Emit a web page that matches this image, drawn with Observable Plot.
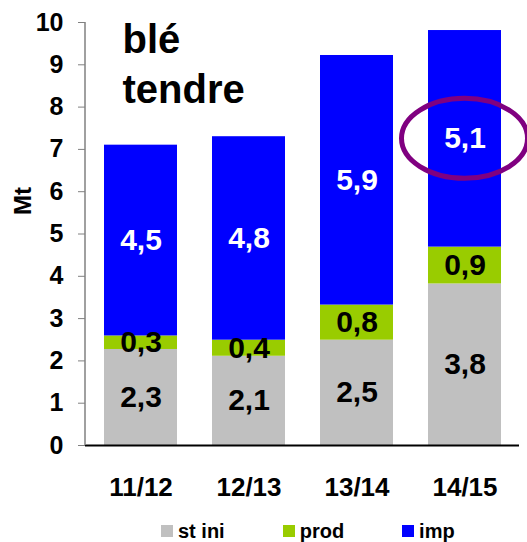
<!DOCTYPE html>
<html><head><meta charset="utf-8">
<script src="https://cdn.jsdelivr.net/npm/d3@7"></script>
<script src="https://cdn.jsdelivr.net/npm/@observablehq/plot@0.6"></script>
<style>
body{margin:0;background:#fff;font-family:"Liberation Sans",Arial,sans-serif;}
#wrap{position:relative;width:527px;height:542px;overflow:hidden;}
#chart{position:absolute;left:0;top:0;}
.legend{position:absolute;left:161px;top:520px;display:flex;font-weight:bold;font-size:20px;line-height:22px;color:#000;}
.legend .item{display:flex;align-items:center;margin-right:58px;}
.legend .sw{width:12px;height:12px;margin-right:5px;}
</style></head><body>
<div id="wrap"><div id="chart"></div><div class="legend" id="legend"></div></div>
<script>
const campaigns = ["11/12", "12/13", "13/14", "14/15"];
const seriesNames = ["st ini", "prod", "imp"];
const stIni = [2.27, 2.11, 2.49, 3.82];
const prod = [0.32, 0.38, 0.83, 0.87];
const imp = [4.51, 4.81, 5.90, 5.12];
const seriesColors = ["#c0c0c0", "#99cc00", "#0000ff"];
const yTicks = [0, 1, 2, 3, 4, 5, 6, 7, 8, 9, 10];
const titleLines = ["blé", "tendre"];
const yLabel = "Mt";
const highlighted = "14/15";

const values = [stIni, prod, imp];
const data = [];
seriesNames.forEach((s, si) => campaigns.forEach((c, ci) => data.push({campaign: c, series: s, value: values[si][ci]})));
const fmt = v => v.toFixed(1).replace(".", ",");

const font = "'Liberation Sans', Arial, sans-serif";
const plot = Plot.plot({
  width: 527, height: 510,
  marginTop: 22, marginBottom: 65, marginLeft: 85, marginRight: 8,
  style: {fontFamily: font, fontWeight: "bold", color: "black", background: "white"},
  x: {domain: campaigns, paddingInner: 0.327, paddingOuter: 0.1635},
  y: {domain: [0, 10]},
  color: {domain: seriesNames, range: seriesColors},
  marks: [
    Plot.barY(data, {x: "campaign", y: "value", z: "series", fill: "series"}),
    Plot.text(data, Plot.stackY({x: "campaign", y: "value", z: "series",
      text: d => d.series === "imp" ? "" : fmt(d.value), fill: "black", fontSize: 30, fontWeight: "bold"})),
    Plot.text(data, Plot.stackY({x: "campaign", y: "value", z: "series",
      text: d => d.series === "imp" ? fmt(d.value) : "", fill: "white", fontSize: 30, fontWeight: "bold"})),
    Plot.ruleY([0], {stroke: "black", strokeWidth: 2}),
    Plot.axisY({ticks: yTicks, tickSize: 7, tickPadding: 15, fontSize: 25, stroke: "#808080", fill: "black", label: null}),
    Plot.axisX({tickSize: 0, tickPadding: 32, fontSize: 26, fill: "black", label: null}),
    Plot.text([titleLines.join("\n")], {text: d => d, frameAnchor: "top-left", textAnchor: "start", lineAnchor: "top", dx: 37, dy: -5, fontSize: 40, lineHeight: 1.25, fontWeight: "bold", fill: "black"}),
    Plot.text([yLabel], {text: d => d, frameAnchor: "left", rotate: -90, dx: -62, dy: -19, fontSize: 24, fontWeight: "bold", fill: "black"})
  ]
});
document.getElementById("chart").appendChild(plot);

// y axis line and highlight ellipse using the plot's scales
const xs = plot.scale("x"), ys = plot.scale("y");
const svg = d3.select(plot);
svg.append("line")
  .attr("x1", xs.range[0]).attr("x2", xs.range[0])
  .attr("y1", ys.apply(0)).attr("y2", ys.apply(10))
  .attr("stroke", "#808080").attr("stroke-width", 1.5);
const hi = campaigns.indexOf(highlighted);
svg.append("ellipse")
  .attr("cx", xs.apply(highlighted) + xs.bandwidth / 2)
  .attr("cy", ys.apply(stIni[hi] + prod[hi] + imp[hi] / 2))
  .attr("rx", 63).attr("ry", 40)
  .attr("fill", "none").attr("stroke", "#800080").attr("stroke-width", 5);

const leg = document.getElementById("legend");
seriesNames.forEach((s, i) => {
  const it = document.createElement("div"); it.className = "item";
  const sw = document.createElement("span"); sw.className = "sw"; sw.style.background = seriesColors[i];
  const tx = document.createElement("span"); tx.textContent = s;
  it.appendChild(sw); it.appendChild(tx); leg.appendChild(it);
});
</script></body></html>
